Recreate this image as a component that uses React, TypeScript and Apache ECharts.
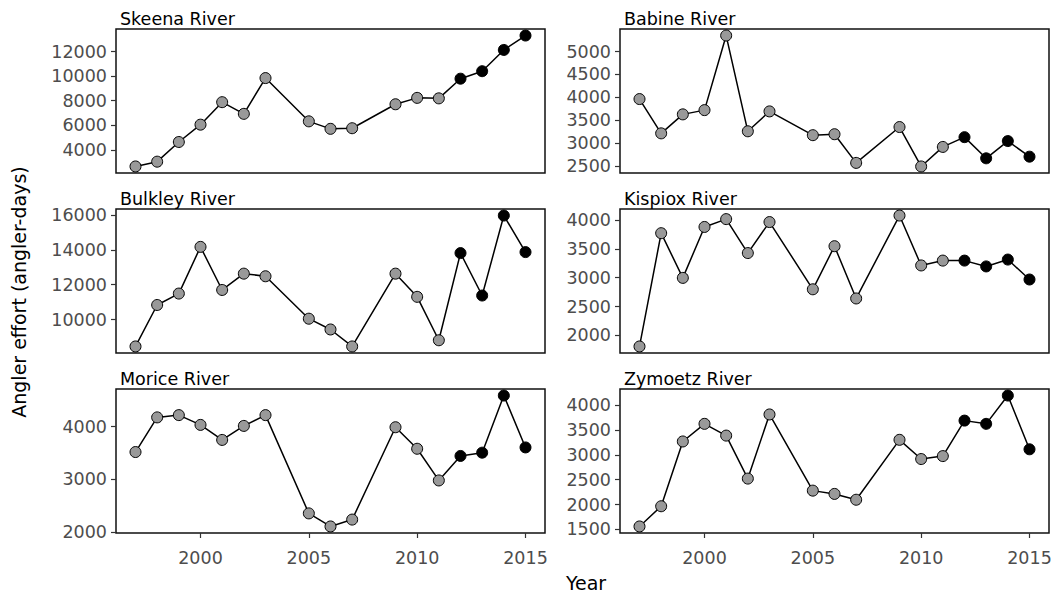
import React, { useEffect, useRef } from "react";
import * as echarts from "echarts";

const years = [1997, 1998, 1999, 2000, 2001, 2002, 2003, 2005, 2006, 2007, 2009, 2010, 2011, 2012, 2013, 2014, 2015];

const skeena = [2650, 3040, 4640, 6050, 7880, 6930, 9840, 6320, 5710, 5760, 7710, 8230, 8190, 9790, 10400, 12130, 13300];
const babine = [3960, 3210, 3625, 3718, 5349, 3255, 3690, 3170, 3191, 2564, 3348, 2486, 2913, 3127, 2664, 3041, 2700];
const bulkley = [8467, 10841, 11495, 14168, 11701, 12635, 12486, 10056, 9439, 8467, 12635, 11308, 8822, 13813, 11383, 15962, 13869];
const kispiox = [1807, 3773, 2997, 3881, 4017, 3428, 3966, 2799, 3547, 2640, 4079, 3213, 3297, 3297, 3196, 3315, 2969];
const morice = [3518, 4173, 4216, 4031, 3747, 4012, 4216, 2358, 2111, 2241, 3987, 3580, 2981, 3444, 3506, 4586, 3605];
const zymoetz = [1559, 1965, 3267, 3621, 3385, 2521, 3810, 2279, 2213, 2096, 3300, 2914, 2973, 3686, 3621, 4190, 3110];

const riverNames = ["Skeena River", "Babine River", "Bulkley River", "Kispiox River", "Morice River", "Zymoetz River"];
const riverValues = [skeena, babine, bulkley, kispiox, morice, zymoetz];

const skeenaTicks = [4000, 6000, 8000, 10000, 12000];
const babineTicks = [2500, 3000, 3500, 4000, 4500, 5000];
const bulkleyTicks = [10000, 12000, 14000, 16000];
const kispioxTicks = [2000, 2500, 3000, 3500, 4000];
const moriceTicks = [2000, 3000, 4000];
const zymoetzTicks = [1500, 2000, 2500, 3000, 3500, 4000];
const riverTicks = [skeenaTicks, babineTicks, bulkleyTicks, kispioxTicks, moriceTicks, zymoetzTicks];

const xTicks = [2000, 2005, 2010, 2015];
const highlightFrom = 2012;

const yTitle = "Angler effort (angler-days)";
const xTitle = "Year";

const FONT = "DejaVu Sans";
const TICK_FS = 17.5;
const STRIP_FS = 17.5;
const TITLE_FS = 19;

export default function App() {
  const ref = useRef<HTMLDivElement>(null);

  useEffect(() => {
    if (!ref.current) return;
    const chart = echarts.init(ref.current, null, { renderer: "svg" });

    const lefts = [116, 620];
    const tops = [29, 209, 389];
    const W = 429;
    const H = 144;

    const grids: any[] = [];
    const xAxes: any[] = [];
    const yAxes: any[] = [];
    const series: any[] = [];
    const graphics: any[] = [];

    riverNames.forEach((name, i) => {
      const col = i % 2;
      const row = Math.floor(i / 2);
      const vals = riverValues[i];
      const lo = Math.min(...vals);
      const hi = Math.max(...vals);
      const pad = (hi - lo) * 0.05;
      const bottomRow = row === 2;

      grids.push({
        left: lefts[col],
        top: tops[row],
        width: W,
        height: H,
        show: true,
        borderColor: "#111",
        borderWidth: 1.5,
        backgroundColor: "transparent",
      });

      xAxes.push({
        type: "value",
        gridIndex: i,
        min: 1996.1,
        max: 2015.9,
        axisLine: { show: false },
        splitLine: { show: false },
        axisTick: {
          show: bottomRow,
          customValues: xTicks,
          length: 5,
          lineStyle: { color: "#333", width: 1.2 },
        },
        axisLabel: {
          show: bottomRow,
          customValues: xTicks,
          color: "#4d4d4d",
          fontFamily: FONT,
          fontSize: TICK_FS,
          margin: 16,
          formatter: (v: number) => String(v),
        },
      });

      yAxes.push({
        type: "value",
        gridIndex: i,
        min: lo - pad,
        max: hi + pad,
        axisLine: { show: false },
        splitLine: { show: false },
        axisTick: {
          show: true,
          customValues: riverTicks[i],
          length: 5,
          lineStyle: { color: "#333", width: 1.2 },
        },
        axisLabel: {
          show: true,
          customValues: riverTicks[i],
          color: "#4d4d4d",
          fontFamily: FONT,
          fontSize: TICK_FS,
          margin: 9,
          formatter: (v: number) => String(v),
        },
      });

      series.push({
        type: "line",
        xAxisIndex: i,
        yAxisIndex: i,
        clip: false,
        symbol: "circle",
        symbolSize: 11,
        lineStyle: { color: "#000", width: 1.5 },
        itemStyle: { color: "#999", borderColor: "#000", borderWidth: 1 },
        data: years.map((y, k) => ({
          value: [y, vals[k]],
          itemStyle: {
            color: y >= highlightFrom ? "#000" : "#999",
            borderColor: "#000",
            borderWidth: 1,
          },
        })),
      });

      graphics.push({
        type: "text",
        x: lefts[col] + 4,
        y: tops[row] - 10.5,
        style: {
          text: name,
          fill: "#000",
          font: `${STRIP_FS}px "${FONT}"`,
          textVerticalAlign: "middle",
          textAlign: "left",
        },
      });
    });

    graphics.push({
      type: "text",
      x: 19,
      y: 292,
      rotation: Math.PI / 2,
      style: {
        text: yTitle,
        fill: "#000",
        font: `${TITLE_FS}px "${FONT}"`,
        textAlign: "center",
        textVerticalAlign: "middle",
      },
    });
    graphics.push({
      type: "text",
      x: 586,
      y: 583,
      style: {
        text: xTitle,
        fill: "#000",
        font: `${TITLE_FS}px "${FONT}"`,
        textAlign: "center",
        textVerticalAlign: "middle",
      },
    });

    chart.setOption({
      animation: false,
      backgroundColor: "#fff",
      grid: grids,
      xAxis: xAxes,
      yAxis: yAxes,
      series,
      graphic: graphics,
    });

    return () => chart.dispose();
  }, []);

  return <div ref={ref} style={{ width: 1056, height: 596, position: "absolute", left: 0, top: 0 }} />;
}
